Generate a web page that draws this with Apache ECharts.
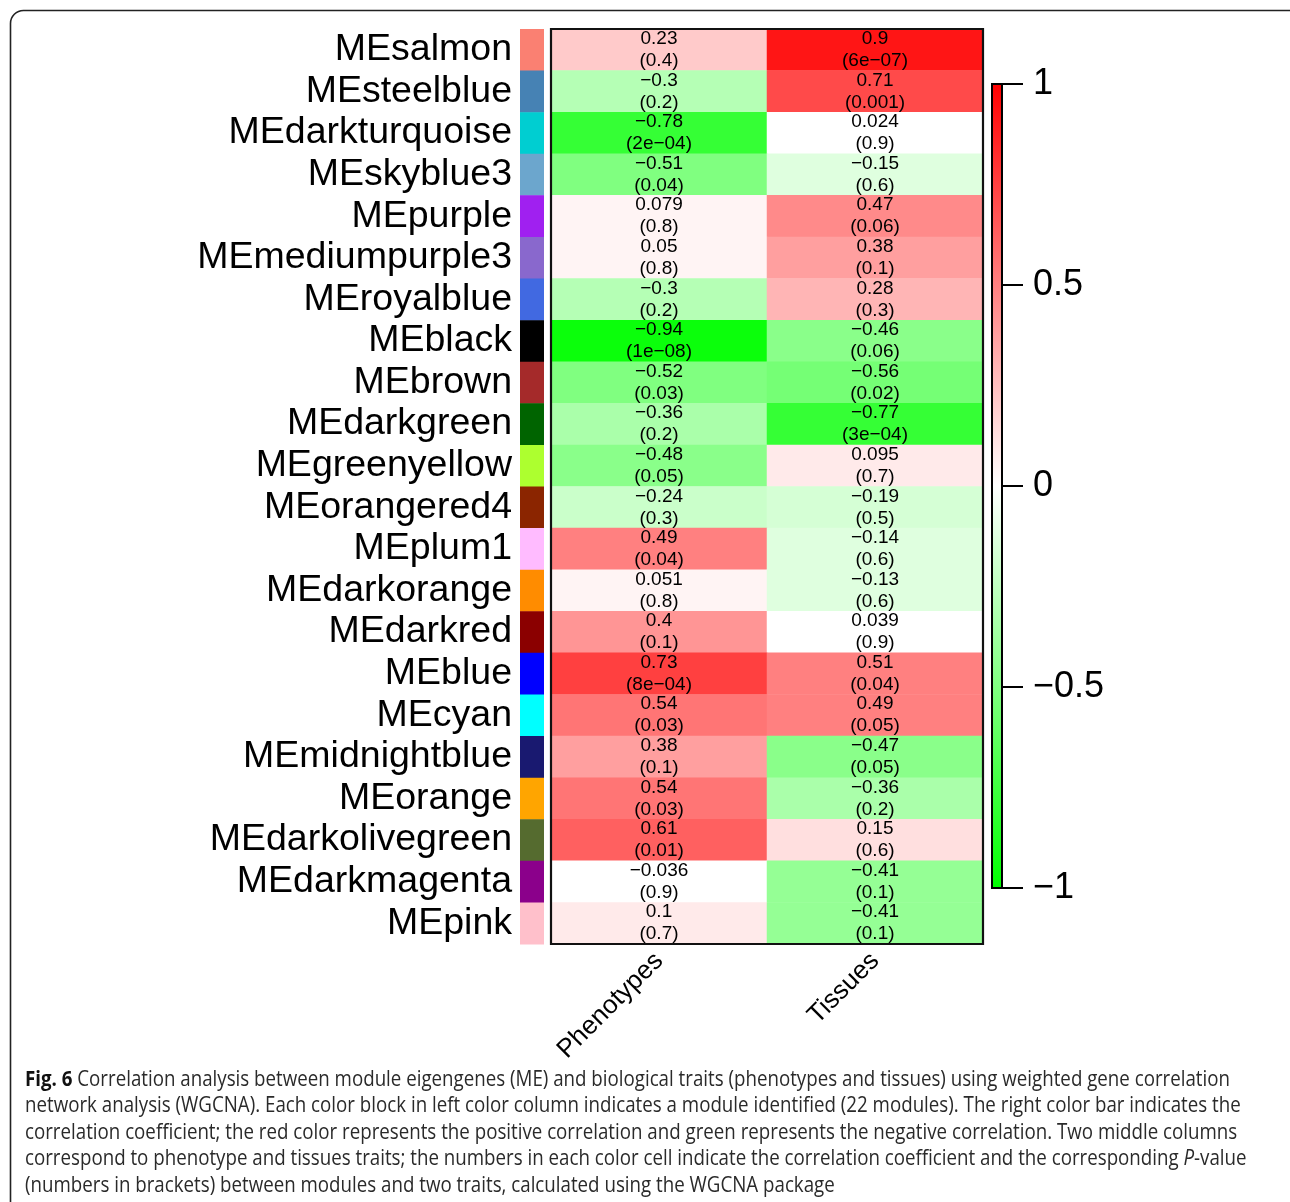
<!DOCTYPE html>
<html>
<head>
<meta charset="utf-8">
<title>Module–trait relationships</title>
<script src="https://cdn.jsdelivr.net/npm/echarts@6/dist/echarts.min.js"></script>
<style>
  html, body { margin: 0; padding: 0; background: #fff; }
  #chart { width: 1290px; height: 1202px; }
</style>
</head>
<body>
<div id="chart"></div>
<script>
// Module eigengenes (rows, top to bottom) and their module colours
const modules = [
  'MEsalmon', 'MEsteelblue', 'MEdarkturquoise', 'MEskyblue3', 'MEpurple',
  'MEmediumpurple3', 'MEroyalblue', 'MEblack', 'MEbrown', 'MEdarkgreen',
  'MEgreenyellow', 'MEorangered4', 'MEplum1', 'MEdarkorange', 'MEdarkred',
  'MEblue', 'MEcyan', 'MEmidnightblue', 'MEorange', 'MEdarkolivegreen',
  'MEdarkmagenta', 'MEpink'
];
const moduleColors = [
  '#FA8072', '#4682B4', '#00CED1', '#6CA6CD', '#A020F0',
  '#8968CD', '#4169E1', '#000000', '#A52A2A', '#006400',
  '#ADFF2F', '#8B2500', '#FFBBFF', '#FF8C00', '#8B0000',
  '#0000FF', '#00FFFF', '#191970', '#FFA500', '#556B2F',
  '#8B008B', '#FFC0CB'
];

// Traits (columns)
const traits = ['Phenotypes', 'Tissues'];

// Correlation coefficients and P-values per trait
const corPhenotypes = [
  0.23, -0.3, -0.78, -0.51, 0.079, 0.05, -0.3, -0.94, -0.52, -0.36, -0.48,
  -0.24, 0.49, 0.051, 0.4, 0.73, 0.54, 0.38, 0.54, 0.61, -0.036, 0.1
];
const pPhenotypes = [
  '0.4', '0.2', '2e-04', '0.04', '0.8', '0.8', '0.2', '1e-08', '0.03', '0.2', '0.05',
  '0.3', '0.04', '0.8', '0.1', '8e-04', '0.03', '0.1', '0.03', '0.01', '0.9', '0.7'
];
const corTissues = [
  0.9, 0.71, 0.024, -0.15, 0.47, 0.38, 0.28, -0.46, -0.56, -0.77, 0.095,
  -0.19, -0.14, -0.13, 0.039, 0.51, 0.49, -0.47, -0.36, 0.15, -0.41, -0.41
];
const pTissues = [
  '6e-07', '0.001', '0.9', '0.6', '0.06', '0.1', '0.3', '0.06', '0.02', '3e-04', '0.7',
  '0.5', '0.6', '0.6', '0.9', '0.04', '0.05', '0.05', '0.2', '0.6', '0.1', '0.1'
];

// Colour scale range, tick step and number of palette steps (green-white-red)
const scaleMin = -1;
const scaleMax = 1;
const scaleStep = 0.5;
const paletteSteps = 50;

// Caption lines
const captionLines = [
  [['b', 'Fig. 6'], ['', ' Correlation analysis between module eigengenes (ME) and biological traits (phenotypes and tissues) using weighted gene correlation']],
  [['', 'network analysis (WGCNA). Each color block in left color column indicates a module identified (22 modules). The right color bar indicates the']],
  [['', 'correlation coefficient; the red color represents the positive correlation and green represents the negative correlation. Two middle columns']],
  [['', 'correspond to phenotype and tissues traits; the numbers in each color cell indicate the correlation coefficient and the corresponding '], ['i', 'P'], ['', '-value']],
  [['', '(numbers in brackets) between modules and two traits, calculated using the WGCNA package']]
];

const FONT = '"Liberation Sans", Arial, Helvetica, sans-serif';
const CAP_FONT = '"Open Sans", "Noto Sans", sans-serif';
const minus = s => String(s).replace(/-/g, '\u2212');

// Discrete green-white-red palette: first half green -> white, second half white -> red
function paletteColor(k) {
  const half = paletteSteps / 2;
  const h = Math.round(255 * (k < half ? k / (half - 1) : (paletteSteps - 1 - k) / (half - 1)));
  return k < half ? `rgb(${h},255,${h})` : `rgb(255,${h},${h})`;
}
const binWidth = (scaleMax - scaleMin) / paletteSteps;
const pieces = [];
for (let k = 0; k < paletteSteps; k++) {
  const lo = +(scaleMin + k * binWidth).toFixed(6);
  const hi = +(scaleMin + (k + 1) * binWidth).toFixed(6);
  pieces.push(k === paletteSteps - 1
    ? { gte: lo, lte: hi, color: paletteColor(k) }
    : { gte: lo, lt: hi, color: paletteColor(k) });
}

// Heatmap cells: [trait index, module index, r, p]
const cells = [];
modules.forEach((m, i) => {
  cells.push([0, i, corPhenotypes[i], pPhenotypes[i]]);
  cells.push([1, i, corTissues[i], pTissues[i]]);
});

// Caption layout: measure text to fit a common horizontal scale
const CAP_SIZE = 21;
const ctx = document.createElement('canvas').getContext('2d');
function segFont(kind) {
  return (kind === 'b' ? 'bold ' : '') + (kind === 'i' ? 'italic ' : '') + CAP_SIZE + 'px ' + CAP_FONT;
}
function lineWidth(segs) {
  return segs.reduce((w, [k, t]) => { ctx.font = segFont(k); return w + ctx.measureText(t).width; }, 0);
}
const capScale = 1205 / lineWidth(captionLines[0]);
const captionY = [1080, 1106.5, 1133, 1159.5, 1186];
const captionGraphics = captionLines.map((segs, li) => ({
  type: 'text',
  x: 25,
  y: captionY[li],
  scaleX: capScale,
  silent: true,
  style: {
    text: segs.map(([k, t]) => k ? '{' + k + '|' + t + '}' : t).join(''),
    fontFamily: CAP_FONT,
    fontSize: CAP_SIZE,
    fill: '#2a2a2a',
    verticalAlign: 'middle',
    rich: {
      b: { fontFamily: CAP_FONT, fontSize: CAP_SIZE, fontWeight: 'bold', fill: '#111' },
      i: { fontFamily: CAP_FONT, fontSize: CAP_SIZE, fontStyle: 'italic', fill: '#2a2a2a' }
    }
  }
}));

const chart = echarts.init(document.getElementById('chart'), null, { renderer: 'canvas' });

const option = {
  backgroundColor: '#ffffff',
  animation: false,
  textStyle: { fontFamily: FONT },
  graphic: [
    {
      type: 'rect',
      silent: true,
      shape: { x: 10.5, y: 10.5, width: 1320, height: 1260, r: 13 },
      style: { fill: 'none', stroke: '#222', lineWidth: 1.6 }
    }
  ].concat(captionGraphics),
  grid: [
    { left: 551, top: 29, width: 432, height: 915 },   // heatmap
    { left: 520, top: 29, width: 24, height: 915 },    // module colour column
    { left: 992, top: 84, width: 10, height: 804 }     // colour bar
  ],
  visualMap: {
    show: false,
    type: 'piecewise',
    dimension: 2,
    seriesIndex: 0,
    pieces: pieces
  },
  xAxis: [
    {
      gridIndex: 0,
      type: 'category',
      data: traits,
      axisLine: { show: false },
      axisTick: { show: false },
      splitLine: { show: false },
      axisLabel: {
        rotate: 45,
        margin: 13,
        fontSize: 26,
        color: '#000',
        fontFamily: FONT
      }
    },
    { gridIndex: 1, type: 'category', data: [''], show: false },
    { gridIndex: 2, type: 'category', data: [''], show: false }
  ],
  yAxis: [
    {
      gridIndex: 0,
      type: 'category',
      data: modules,
      inverse: true,
      show: false
    },
    {
      gridIndex: 1,
      type: 'category',
      data: modules,
      inverse: true,
      axisLine: { show: false },
      axisTick: { show: false },
      splitLine: { show: false },
      axisLabel: { interval: 0, fontSize: 37.5, color: '#000', margin: 8, fontFamily: FONT }
    },
    {
      gridIndex: 2,
      type: 'value',
      min: scaleMin,
      max: scaleMax,
      interval: scaleStep,
      position: 'right',
      axisLine: { show: true, lineStyle: { color: '#000', width: 2 } },
      axisTick: { show: true, length: 21, lineStyle: { color: '#000', width: 2 } },
      splitLine: { show: false },
      axisLabel: {
        fontSize: 36,
        color: '#000',
        margin: 31,
        fontFamily: FONT,
        formatter: v => minus(v)
      }
    }
  ],
  series: [
    {
      name: 'correlation',
      type: 'heatmap',
      xAxisIndex: 0,
      yAxisIndex: 0,
      data: cells,
      itemStyle: { borderWidth: 0 },
      emphasis: { disabled: true },
      label: {
        show: true,
        color: '#000',
        fontSize: 19,
        lineHeight: 22,
        fontFamily: FONT,
        formatter: p => minus(p.value[2]) + '\n(' + minus(p.value[3]) + ')'
      }
    },
    {
      name: 'frame',
      type: 'custom',
      xAxisIndex: 0,
      yAxisIndex: 0,
      z: 5,
      silent: true,
      data: [[0, 0]],
      renderItem: (params) => {
        const cs = params.coordSys;
        return {
          type: 'rect',
          shape: { x: cs.x, y: cs.y, width: cs.width, height: cs.height },
          style: { fill: 'none', stroke: '#111', lineWidth: 2.2 }
        };
      }
    },
    {
      name: 'modules',
      type: 'custom',
      xAxisIndex: 1,
      yAxisIndex: 1,
      silent: true,
      data: modules.map((m, i) => [0, i]),
      renderItem: (params, api) => {
        const c = api.coord([api.value(0), api.value(1)]);
        const s = api.size([1, 1]);
        return {
          type: 'rect',
          shape: { x: c[0] - s[0] / 2, y: c[1] - s[1] / 2, width: s[0], height: s[1] + 0.5 },
          style: { fill: moduleColors[params.dataIndex] }
        };
      }
    },
    {
      name: 'colorbar',
      type: 'custom',
      xAxisIndex: 2,
      yAxisIndex: 2,
      silent: true,
      data: [[0, scaleMin, scaleMax]],
      renderItem: (params, api) => {
        const top = api.coord([0, api.value(2)]);
        const bot = api.coord([0, api.value(1)]);
        const w = api.size([1, 0])[0];
        return {
          type: 'rect',
          shape: { x: top[0] - w / 2, y: top[1], width: w, height: bot[1] - top[1] },
          style: {
            fill: new echarts.graphic.LinearGradient(0, 0, 0, 1, [
              { offset: 0, color: '#FF0000' },
              { offset: 0.5, color: '#FFFFFF' },
              { offset: 1, color: '#00FF00' }
            ]),
            stroke: '#000',
            lineWidth: 2
          }
        };
      }
    }
  ]
};

chart.setOption(option);
</script>
</body>
</html>
